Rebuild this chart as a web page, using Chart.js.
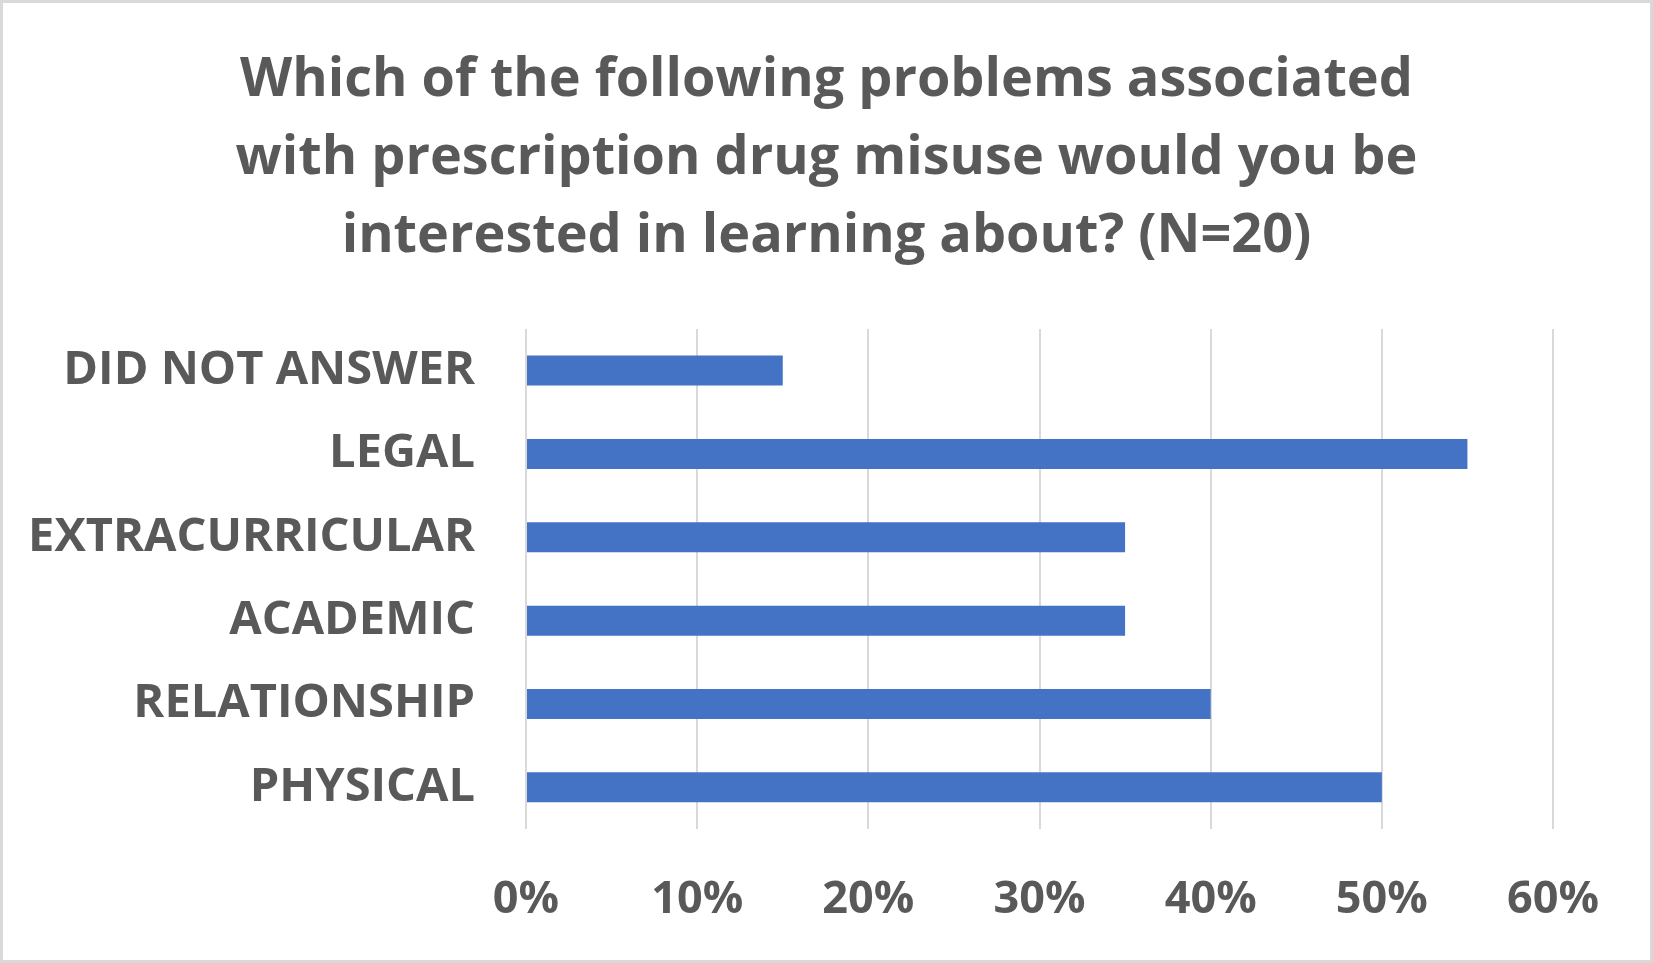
<!DOCTYPE html>
<html>
<head>
<meta charset="utf-8">
<script src="https://cdn.jsdelivr.net/npm/chart.js@4.4.0/dist/chart.umd.min.js"></script>
<style>
  html, body { margin: 0; padding: 0; background: #fff; }
  #wrap { width: 1653px; height: 963px; }
</style>
</head>
<body>
<div id="wrap"><canvas id="chartz"></canvas></div>
<script>
// survey answers, percent of respondents
var categories = ['DID NOT ANSWER', 'LEGAL', 'EXTRACURRICULAR', 'ACADEMIC', 'RELATIONSHIP', 'PHYSICAL'];
var percents = [15, 55, 35, 35, 40, 50];
var tickValues = [0, 10, 20, 30, 40, 50, 60];
var titleLines = [
    'Which of the following problems associated',
    'with prescription drug misuse would you be',
    'interested in learning about? (N=20)'
];

var textColor = '#595959';
var fontFamily = '"Open Sans", Calibri, sans-serif';

// white background + light gray frame
var framePlugin = {
    id: 'frame',
    beforeDraw: function (c) {
        var ctx = c.ctx;
        ctx.save();
        ctx.fillStyle = '#ffffff';
        ctx.fillRect(0, 0, c.width, c.height);
        ctx.restore();
    },
    afterDraw: function (c) {
        var ctx = c.ctx;
        ctx.save();
        ctx.strokeStyle = '#d9d9d9';
        ctx.lineWidth = 3;
        ctx.strokeRect(1.5, 1.5, c.width - 3, c.height - 3);
        ctx.restore();
    }
};

var myCanvas = document.getElementById('chartz').getContext('2d');

var chart = {
    type: 'bar',
    data: {
        labels: categories,
        datasets: [{
            label: 'Percent',
            data: percents,
            backgroundColor: '#4472c4',
            borderWidth: 0,
            barPercentage: 0.36,
            categoryPercentage: 1
        }]
    },
    options: {
        indexAxis: 'y',
        responsive: true,
        maintainAspectRatio: false,
        devicePixelRatio: 1,
        animation: false,
        layout: {
            padding: 0
        },
        plugins: {
            legend: { display: false },
            tooltip: { enabled: false },
            title: {
                display: true,
                text: titleLines,
                color: textColor,
                font: { family: fontFamily, size: 54, weight: 'bold', lineHeight: 1.444 },
                padding: { top: 42, bottom: 53 }
            }
        },
        scales: {
            x: {
                min: 0,
                max: 60,
                afterBuildTicks: function (s) {
                    s.ticks = tickValues.map(function (v) { return { value: v }; });
                },
                afterFit: function (s) { s.height = 134; },
                grid: {
                    color: '#d9d9d9',
                    lineWidth: 2,
                    drawTicks: false
                },
                border: { display: false },
                ticks: {
                    color: textColor,
                    padding: 44,
                    font: { family: fontFamily, size: 45, weight: 'bold' },
                    callback: function (v) { return v + '%'; }
                }
            },
            y: {
                afterFit: function (s) { s.width = 526; },
                grid: { display: false, drawTicks: false },
                border: { display: false },
                ticks: {
                    color: textColor,
                    padding: 51,
                    font: { family: fontFamily, size: 47, weight: 'bold' }
                }
            },
            // empty right-hand gutter so the plot stops at 60%
            gutter: {
                type: 'category',
                position: 'right',
                afterFit: function (s) { s.width = 100; },
                grid: { display: false, drawTicks: false },
                border: { display: false },
                ticks: { display: false }
            }
        }
    },
    plugins: [framePlugin]
};

var statChart = new Chart(myCanvas, chart);
</script>
</body>
</html>
